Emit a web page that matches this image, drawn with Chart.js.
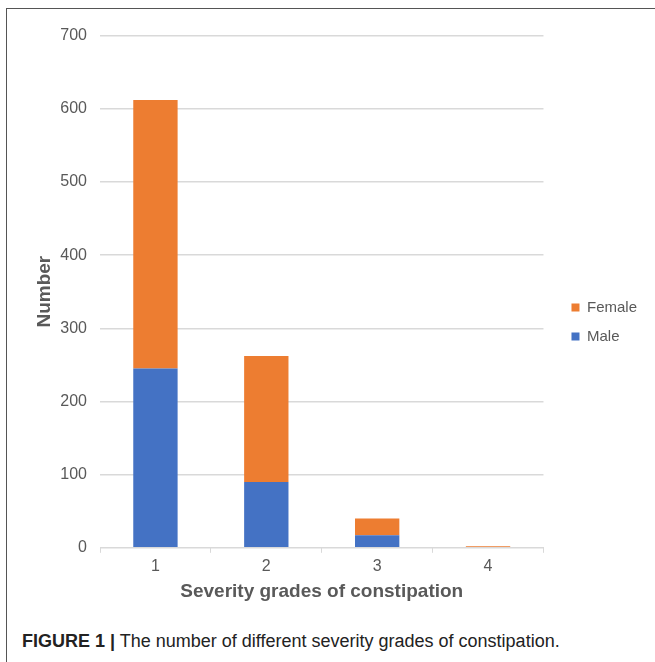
<!DOCTYPE html>
<html>
<head>
<meta charset="utf-8">
<script src="https://cdn.jsdelivr.net/npm/chart.js@4/dist/chart.umd.min.js"></script>
<style>
  html, body { margin: 0; padding: 0; background: #fff; }
  body { width: 655px; height: 662px; position: relative; overflow: hidden; font-family: "Liberation Sans", Arial, sans-serif; }
  #frame { position: absolute; left: 6px; top: 8px; width: 660px; height: 670px; border-top: 1px solid #555; border-left: 1px solid #555; }
  #wrap { position: absolute; left: 10px; top: 13px; width: 640px; height: 607px; }
  #caption { position: absolute; left: 22px; top: 631px; font-size: 18px; color: #222; white-space: nowrap; }
  #caption b { font-weight: bold; }
</style>
</head>
<body>
<div id="frame"></div>
<div id="wrap"><canvas id="chart"></canvas></div>
<div id="caption"><b>FIGURE 1 |</b> The number of different severity grades of constipation.</div>
<script>
(function () {
    'use strict'

    // severity grades on the x axis
    const grades = ['1', '2', '3', '4'];
    // counts
    const male = [245, 90, 17, 0];
    const female = [367, 172, 23, 2];

    const grey = '#595959';
    const gridGrey = '#d9d9d9';

    let ctx = document.getElementById('chart');
    new Chart(ctx, {
        type: 'bar',
        data: {
            labels: grades,
            datasets: [{
                label: 'Male',
                data: male,
                backgroundColor: '#4472c4'
            }, {
                label: 'Female',
                data: female,
                backgroundColor: '#ed7d31'
            }]
        },
        options: {
            responsive: true,
            maintainAspectRatio: false,
            animation: false,
            barPercentage: 0.4,
            categoryPercentage: 1,
            layout: {
                padding: { left: 23, top: 1, right: 3, bottom: 19 }
            },
            scales: {
                x: {
                    stacked: true,
                    grid: { drawOnChartArea: false, drawTicks: true, tickLength: 5, color: gridGrey },
                    border: { color: gridGrey },
                    ticks: { color: grey, font: { family: 'Liberation Sans', size: 16 }, padding: 4 },
                    title: {
                        display: true,
                        text: 'Severity grades of constipation',
                        color: grey,
                        font: { family: 'Liberation Sans', size: 19, weight: 'bold', lineHeight: 1.0 },
                        padding: { top: 2, bottom: 0 }
                    }
                },
                y: {
                    stacked: true,
                    min: 0,
                    max: 700,
                    grid: { color: gridGrey, drawTicks: false, lineWidth: 1.5 },
                    border: { display: false },
                    ticks: { stepSize: 100, color: grey, font: { family: 'Liberation Sans', size: 16 }, padding: 13 },
                    title: {
                        display: true,
                        text: 'Number',
                        color: grey,
                        font: { family: 'Liberation Sans', size: 19, weight: 'bold' },
                        padding: 0
                    },
                    afterFit: function (axis) { axis.width = 67; }
                },
                // empty spacer between the plot and the legend
                gap: {
                    type: 'linear',
                    position: 'right',
                    grid: { display: false },
                    border: { display: false },
                    ticks: { display: false },
                    afterFit: function (axis) { axis.width = 14; }
                }
            },
            plugins: {
                legend: {
                    position: 'right',
                    reverse: true,
                    title: { display: true, text: ' ', font: { size: 1 }, padding: { top: 28, bottom: 0 } },
                    labels: {
                        boxWidth: 8,
                        boxHeight: 8,
                        color: grey,
                        padding: 14,
                        font: { family: 'Liberation Sans', size: 15 }
                    }
                },
                tooltip: { enabled: false }
            }
        }
    });
})()
</script>
</body>
</html>
